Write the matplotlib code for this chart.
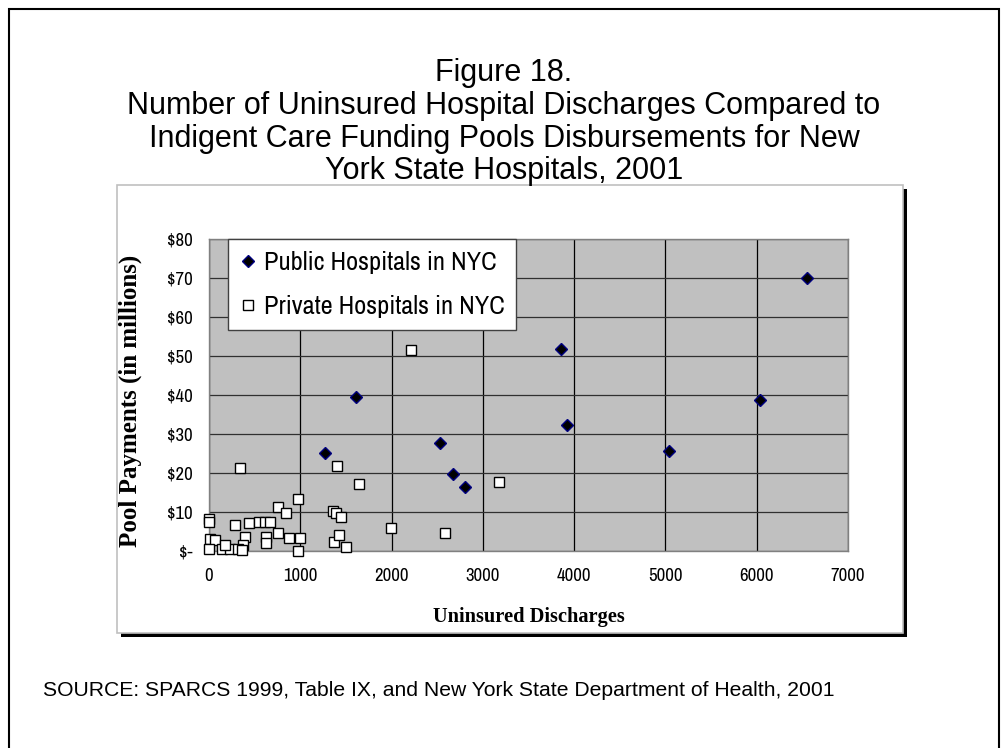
import matplotlib
matplotlib.use("Agg")
import matplotlib.pyplot as plt
from matplotlib.patches import Rectangle

# fuentes: para el Arial Narrow del original usamos Archivo Narrow (si no, Liberation Sans)
ANGOSTA = ['Archivo Narrow', 'Liberation Sans']
NORMAL = 'Liberation Sans'
SERIF = 'Liberation Serif'

# datos
publico_x = [1270, 1607, 2530, 2669, 2804, 3859, 3921, 5035, 6039, 6553]
publico_y = [25.2, 39.6, 27.8, 19.7, 16.5, 51.8, 32.2, 25.7, 38.8, 70.0]

privado_x = [340, 1398, 1643, 971, 759, 840, 1362, 1387, 1442, 0, 0, 285, 442, 551,
             613, 668, 759, 624, 624, 880, 997, 978, 394, 376, 11, 66, 3, 139, 230,
             175, 314, 358, 1369, 1424, 1500, 1993, 2585, 3176, 2216]
privado_y = [21.4, 21.8, 17.2, 13.3, 11.4, 9.8, 10.3, 9.7, 8.6, 8.1, 7.4, 6.7, 7.3, 7.5,
             7.5, 7.5, 4.5, 3.7, 2.0, 3.4, 3.4, 0.1, 3.7, 1.5, 3.0, 2.8, 0.4, 0.4, 0.4,
             1.5, 0.4, 0.3, 2.4, 4.1, 0.9, 5.8, 4.5, 17.8, 51.5]

x_ticks = [0, 1000, 2000, 3000, 4000, 5000, 6000, 7000]
y_ticks = [0, 10, 20, 30, 40, 50, 60, 70, 80]
y_etiquetas = ['$-', '$10', '$20', '$30', '$40', '$50', '$60', '$70', '$80']

titulo = ("Figure 18.\nNumber of Uninsured Hospital Discharges Compared to\n"
          "Indigent Care Funding Pools Disbursements for New\nYork State Hospitals, 2001")
fuente = "SOURCE: SPARCS 1999, Table IX, and New York State Department of Health, 2001"

W, H = 1008, 748
fig = plt.figure(figsize=(W / 100, H / 100), dpi=100)

def px(x0, y0, x1, y1):
    # caja en pixeles (origen arriba-izquierda) -> fracciones de figura
    return (x0 / W, 1 - y1 / H, (x1 - x0) / W, (y1 - y0) / H)

# borde exterior
fig.patches.append(Rectangle((9 / W, -0.1), 990 / W, 1.1 - 9 / H, transform=fig.transFigure,
                             fill=False, edgecolor='black', linewidth=1.5, zorder=-10))
# area del grafico con sombra
x, y, w, h = px(121, 189, 907, 637)
fig.patches.append(Rectangle((x, y), w, h, transform=fig.transFigure,
                             facecolor='black', edgecolor='black', linewidth=0, zorder=-10))
x, y, w, h = px(117, 185, 903, 633)
fig.patches.append(Rectangle((x, y), w, h, transform=fig.transFigure,
                             facecolor='white', edgecolor='#C0C0C0', linewidth=1.2, zorder=-9))

fig.text(0.5, 1 - 58 / H, titulo, ha='center', va='top', fontsize=22,
         family=NORMAL, linespacing=1.12)
fig.text(43 / W, 1 - 690 / H, fuente, ha='left', va='center', fontsize=15.2, family=NORMAL)

ax = fig.add_axes(px(209, 239, 848, 551))
ax.set_facecolor('#C0C0C0')
ax.set_xlim(0, 7000)
ax.set_ylim(0, 80)
ax.set_axisbelow(True)
ax.grid(True, color='black', linewidth=0.9)
ax.grid(True, axis='y', color='#303030', linewidth=0.9)

ax.plot(privado_x, privado_y, linestyle='none', marker='s', markersize=7.8,
        markerfacecolor='white', markeredgecolor='black', markeredgewidth=1,
        label='Private Hospitals in NYC', zorder=3, clip_on=False)
ax.plot(publico_x, publico_y, linestyle='none', marker='D', markersize=6.3,
        markerfacecolor='black', markeredgecolor='#000080', markeredgewidth=1,
        label='Public Hospitals in NYC', zorder=4, clip_on=False)

ax.set_xticks(x_ticks)
ax.set_yticks(y_ticks)
ax.set_yticklabels(y_etiquetas)
ax.tick_params(length=0, labelsize=13.5)
ax.tick_params(axis='y', pad=12)
ax.tick_params(axis='x', pad=12)
for t in ax.get_xticklabels() + ax.get_yticklabels():
    t.set_family(ANGOSTA)
for s in ax.spines.values():
    s.set_color('#808080')
    s.set_linewidth(1)

ax.set_xlabel('Uninsured Discharges', family=SERIF, fontweight='bold', fontsize=14.7,
              labelpad=17)
ax.set_ylabel('Pool Payments (in millions)', family=SERIF, fontweight='bold', fontsize=18)
ax.yaxis.set_label_coords(-0.105, 0.48)

h, l = ax.get_legend_handles_labels()
leg = ax.legend(h[::-1], l[::-1], loc='upper left', bbox_to_anchor=(228 / W, 1 - 239 / H),
                bbox_transform=fig.transFigure, prop={'family': ANGOSTA, 'size': 19},
                fancybox=False, framealpha=1, edgecolor='#404040', handlelength=0.6,
                handletextpad=0.3, borderpad=0.45, labelspacing=0.8, borderaxespad=0,
                markerscale=0.9)
leg.get_frame().set_linewidth(1)

fig.savefig('out.png', dpi=100)
